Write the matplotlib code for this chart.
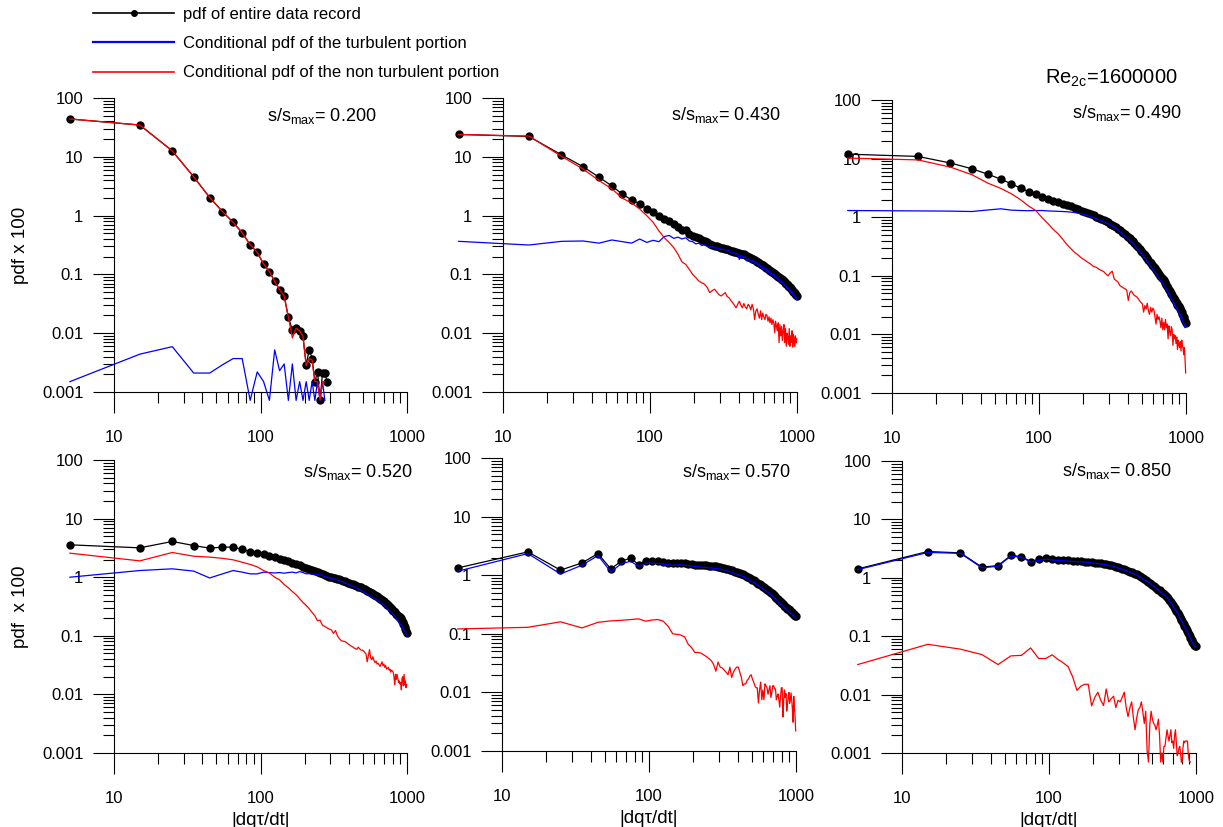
import numpy as np
import matplotlib
matplotlib.use("Agg")
import matplotlib.pyplot as plt
from matplotlib.lines import Line2D
from matplotlib.ticker import LogLocator, NullFormatter, FuncFormatter

plt.rcParams['font.family'] = ['Liberation Sans', 'DejaVu Sans']
plt.rcParams['mathtext.fontset'] = 'custom'
plt.rcParams['mathtext.rm'] = 'Liberation Sans'
plt.rcParams['mathtext.it'] = 'Liberation Sans:italic'
plt.rcParams['mathtext.bf'] = 'Liberation Sans:bold'

# histogram bin centres of |dq tau/dt| (bin width 10)
bins = np.arange(5, 1000, 10)

s_ratio = ['0.200', '0.430', '0.490', '0.520', '0.570', '0.850']
reynolds = '1600000'

# s/smax = 0.200
pdf_all_1 = [44, 34.7, 12.6, 4.55, 2.03, 1.17, 0.77, 0.51, 0.32, 0.237,
             0.15, 0.112, 0.076, 0.055, 0.043, 0.0187, 0.0113, 0.0122, 0.011, 0.0088,
             0.0029, 0.0052, 0.0037, 0.0015, 0.0022, 0.00073, 0.0021, 0.0021, 0.0015]
pdf_turb_1 = [0.0015, 0.0044, 0.0059, 0.0021, 0.0021, 0.0029, 0.0037, 0.0037, 0.00072, 0.0022,
              0.0015, 0.00072, 0.0052, 0.0023, 0.003, 0.00072, 0.003, 0.00072, 0.0015, 0.00072,
              0.0015, 0.00072, 0.0015, 0.00072, 0.0015, 0.00072, 0.0015, 0.00072]
pdf_nonturb_1 = [44, 34.7, 12.6, 4.55, 2.03, 1.17, 0.77, 0.51, 0.32, 0.237,
                 0.15, 0.112, 0.076, 0.055, 0.043, 0.0187, 0.0083, 0.0122, 0.011, 0.0088,
                 0.0028, 0.0037, 0.0035, 0.0015, 0.0015, 0.00073, 0.0015, 0.0015]

# s/smax = 0.430
pdf_all_2 = [24, 22.2, 10.8, 6.8, 4.5, 3.2, 2.3, 1.85, 1.6, 1.3,
             1.17, 0.97, 0.88, 0.80, 0.71, 0.63, 0.58, 0.56, 0.49, 0.45,
             0.43, 0.41, 0.385, 0.37, 0.35, 0.33, 0.32, 0.31, 0.30, 0.29,
             0.285, 0.28, 0.27, 0.268, 0.26, 0.252, 0.248, 0.244, 0.24, 0.235,
             0.228, 0.225, 0.22, 0.22, 0.215, 0.205, 0.2, 0.195, 0.19, 0.185,
             0.18, 0.176, 0.17, 0.165, 0.16, 0.155, 0.15, 0.146, 0.142, 0.138,
             0.134, 0.13, 0.127, 0.123, 0.12, 0.116, 0.113, 0.11, 0.107, 0.105,
             0.102, 0.099, 0.097, 0.094, 0.092, 0.089, 0.087, 0.085, 0.083, 0.081,
             0.079, 0.077, 0.075, 0.072, 0.07, 0.068, 0.066, 0.064, 0.062, 0.06,
             0.058, 0.056, 0.055, 0.053, 0.051, 0.05, 0.048, 0.046, 0.045, 0.043]
pdf_turb_2 = [0.365, 0.316, 0.365, 0.37, 0.34, 0.385, 0.36, 0.34, 0.40, 0.35,
              0.38, 0.36, 0.44, 0.46, 0.41, 0.43, 0.40, 0.42, 0.37, 0.36,
              0.33, 0.34, 0.31, 0.32, 0.30, 0.29, 0.30, 0.28, 0.285, 0.27,
              0.27, 0.265, 0.26, 0.25, 0.255, 0.24, 0.235, 0.23, 0.22, 0.225,
              0.18, 0.21, 0.2, 0.19, 0.2, 0.17, 0.185, 0.18, 0.16, 0.175,
              0.17, 0.15, 0.165, 0.155, 0.14, 0.15, 0.135, 0.14, 0.125, 0.13,
              0.12, 0.125, 0.11, 0.118, 0.105, 0.11, 0.1, 0.104, 0.095, 0.1,
              0.092, 0.088, 0.09, 0.083, 0.085, 0.078, 0.08, 0.074, 0.076, 0.07,
              0.072, 0.066, 0.068, 0.062, 0.064, 0.058, 0.06, 0.055, 0.056, 0.052,
              0.053, 0.048, 0.05, 0.046, 0.047, 0.043, 0.044, 0.04, 0.041, 0.037]
pdf_nonturb_2 = [24, 22.5, 10.2, 6.2, 3.95, 2.85, 1.97, 1.64, 1.3, 1.0,
                 0.77, 0.55, 0.42, 0.35, 0.286, 0.22, 0.163, 0.148, 0.122, 0.1,
                 0.088, 0.077, 0.072, 0.068, 0.06, 0.049, 0.053, 0.056, 0.05, 0.045,
                 0.043, 0.046, 0.049, 0.042, 0.04, 0.036, 0.033, 0.03, 0.027, 0.031,
                 0.035, 0.03, 0.027, 0.032, 0.028, 0.026, 0.031, 0.029, 0.025, 0.031,
                 0.026, 0.017, 0.024, 0.026, 0.021, 0.018, 0.024, 0.017, 0.022, 0.019,
                 0.017, 0.021, 0.02, 0.016, 0.019, 0.015, 0.018, 0.014, 0.017, 0.015,
                 0.0102, 0.016, 0.013, 0.011, 0.015, 0.0069, 0.014, 0.009, 0.013, 0.0075,
                 0.011, 0.014, 0.0069, 0.012, 0.006, 0.01, 0.0085, 0.0065, 0.012, 0.006,
                 0.009, 0.007, 0.011, 0.0058, 0.0095, 0.0075, 0.006, 0.009, 0.0068, 0.008]

# s/smax = 0.490
pdf_all_3 = [11.9, 10.9, 8.4, 6.7, 5.4, 4.46, 3.71, 3.13, 2.74, 2.47,
             2.25, 2.03, 1.9, 1.8, 1.7, 1.62, 1.55, 1.45, 1.37, 1.29,
             1.24, 1.18, 1.13, 1.07, 1.0, 0.96, 0.92, 0.88, 0.85, 0.82,
             0.78, 0.75, 0.72, 0.68, 0.64, 0.6, 0.57, 0.54, 0.51, 0.48,
             0.46, 0.44, 0.41, 0.39, 0.36, 0.34, 0.32, 0.31, 0.29, 0.27,
             0.255, 0.24, 0.225, 0.21, 0.2, 0.185, 0.175, 0.165, 0.155, 0.148,
             0.14, 0.135, 0.126, 0.12, 0.113, 0.106, 0.1, 0.095, 0.09, 0.087,
             0.085, 0.079, 0.075, 0.07, 0.066, 0.062, 0.058, 0.054, 0.051, 0.048,
             0.047, 0.044, 0.042, 0.04, 0.038, 0.036, 0.034, 0.032, 0.031, 0.030,
             0.028, 0.027, 0.025, 0.024, 0.022, 0.021, 0.02, 0.018, 0.017, 0.0155]
pdf_turb_3 = [1.3, 1.28, 1.27, 1.25, 1.33, 1.39, 1.32, 1.3, 1.29, 1.3,
              1.3, 1.28, 1.27, 1.26, 1.25, 1.24, 1.22, 1.2, 1.17, 1.14,
              1.1, 1.06, 1.02, 0.98, 0.94, 0.9, 0.87, 0.84, 0.8, 0.77,
              0.74, 0.71, 0.68, 0.64, 0.6, 0.56, 0.53, 0.5, 0.47, 0.45,
              0.42, 0.4, 0.38, 0.36, 0.33, 0.31, 0.29, 0.28, 0.26, 0.24,
              0.23, 0.215, 0.2, 0.19, 0.175, 0.165, 0.155, 0.145, 0.135, 0.13,
              0.12, 0.118, 0.108, 0.104, 0.096, 0.092, 0.085, 0.082, 0.076, 0.075,
              0.07, 0.068, 0.062, 0.06, 0.055, 0.053, 0.048, 0.046, 0.042, 0.041,
              0.038, 0.037, 0.034, 0.034, 0.03, 0.03, 0.027, 0.027, 0.025, 0.024,
              0.022, 0.022, 0.019, 0.02, 0.017, 0.017, 0.015, 0.015, 0.013, 0.0135]
pdf_nonturb_3 = [10.2, 9.5, 7.15, 5.3, 3.8, 3.1, 2.5, 1.98, 1.55, 1.3,
                 0.98, 0.78, 0.62, 0.52, 0.42, 0.34, 0.29, 0.25, 0.225, 0.2,
                 0.185, 0.17, 0.158, 0.144, 0.14, 0.13, 0.124, 0.118, 0.108, 0.1,
                 0.112, 0.12, 0.088, 0.083, 0.078, 0.068, 0.065, 0.062, 0.06, 0.057,
                 0.038, 0.052, 0.055, 0.05, 0.046, 0.045, 0.043, 0.04, 0.037, 0.035,
                 0.033, 0.024, 0.031, 0.027, 0.034, 0.025, 0.022, 0.029, 0.024, 0.028,
                 0.026, 0.02, 0.015, 0.022, 0.018, 0.02, 0.017, 0.013, 0.019, 0.012,
                 0.016, 0.012, 0.018, 0.013, 0.015, 0.0084, 0.014, 0.011, 0.0095, 0.0135,
                 0.012, 0.0065, 0.01, 0.0085, 0.0095, 0.007, 0.009, 0.0055, 0.008, 0.0065,
                 0.006, 0.0075, 0.0052, 0.008, 0.0065, 0.0058, 0.0045, 0.006, 0.0038, 0.0022]

# s/smax = 0.520
pdf_all_4 = [3.57, 3.17, 4.07, 3.47, 3.13, 3.26, 3.26, 2.97, 2.74, 2.6,
             2.5, 2.34, 2.2, 2.08, 1.98, 1.88, 1.78, 1.7, 1.6, 1.5,
             1.45, 1.38, 1.33, 1.27, 1.22, 1.18, 1.13, 1.09, 1.05, 1.02,
             1.0, 0.98, 0.96, 0.95, 0.92, 0.9, 0.87, 0.85, 0.83, 0.81,
             0.79, 0.78, 0.77, 0.75, 0.73, 0.71, 0.69, 0.68, 0.67, 0.65,
             0.64, 0.62, 0.6, 0.59, 0.58, 0.56, 0.54, 0.53, 0.51, 0.5,
             0.49, 0.48, 0.47, 0.46, 0.44, 0.43, 0.42, 0.41, 0.4, 0.39,
             0.37, 0.36, 0.35, 0.34, 0.33, 0.32, 0.31, 0.3, 0.29, 0.28,
             0.27, 0.26, 0.25, 0.24, 0.235, 0.225, 0.22, 0.215, 0.21, 0.21,
             0.2, 0.19, 0.18, 0.17, 0.16, 0.15, 0.14, 0.13, 0.12, 0.11]
pdf_turb_4 = [1.0, 1.3, 1.39, 1.27, 0.97, 1.14, 1.3, 1.22, 1.14, 1.14,
              1.22, 1.2, 1.18, 1.2, 1.17, 1.2, 1.22, 1.18, 1.25, 1.2,
              1.14, 1.15, 1.12, 1.14, 1.1, 1.1, 1.06, 1.03, 1.0, 0.97,
              0.95, 0.93, 0.91, 0.89, 0.87, 0.85, 0.83, 0.8, 0.78, 0.76,
              0.74, 0.72, 0.71, 0.69, 0.67, 0.65, 0.63, 0.61, 0.6, 0.58,
              0.56, 0.55, 0.53, 0.51, 0.5, 0.49, 0.47, 0.46, 0.45, 0.44,
              0.43, 0.42, 0.41, 0.4, 0.39, 0.38, 0.37, 0.36, 0.35, 0.34,
              0.32, 0.31, 0.3, 0.29, 0.28, 0.27, 0.26, 0.255, 0.25, 0.24,
              0.23, 0.225, 0.22, 0.21, 0.2, 0.19, 0.18, 0.17, 0.165, 0.16,
              0.155, 0.15, 0.145, 0.14, 0.13, 0.125, 0.12, 0.115, 0.11, 0.1]
pdf_nonturb_4 = [2.57, 1.9, 2.64, 2.28, 2.2, 2.1, 1.98, 1.8, 1.65, 1.5,
                 1.3, 1.18, 1.0, 0.9, 0.75, 0.66, 0.57, 0.5, 0.43, 0.37,
                 0.33, 0.29, 0.25, 0.22, 0.18, 0.185, 0.15, 0.145, 0.136, 0.13,
                 0.126, 0.11, 0.123, 0.1, 0.09, 0.083, 0.081, 0.08, 0.077, 0.073,
                 0.07, 0.067, 0.065, 0.062, 0.06, 0.059, 0.064, 0.06, 0.057, 0.057,
                 0.055, 0.052, 0.049, 0.036, 0.046, 0.058, 0.042, 0.039, 0.044, 0.038,
                 0.035, 0.037, 0.033, 0.034, 0.032, 0.03, 0.033, 0.036, 0.031, 0.033,
                 0.029, 0.031, 0.027, 0.028, 0.029, 0.026, 0.027, 0.024, 0.026, 0.025,
                 0.024, 0.02, 0.0145, 0.022, 0.018, 0.022, 0.019, 0.016, 0.017, 0.015,
                 0.016, 0.012, 0.019, 0.02, 0.014, 0.022, 0.0145, 0.017, 0.013, 0.0145]

# s/smax = 0.570
pdf_all_5 = [1.33, 2.5, 1.22, 1.62, 2.34, 1.28, 1.75, 1.95, 1.52, 1.78,
             1.75, 1.72, 1.68, 1.63, 1.6, 1.62, 1.62, 1.6, 1.58, 1.55,
             1.52, 1.5, 1.49, 1.48, 1.47, 1.45, 1.44, 1.43, 1.41, 1.4,
             1.37, 1.35, 1.33, 1.3, 1.27, 1.24, 1.21, 1.18, 1.15, 1.13,
             1.11, 1.08, 1.06, 1.04, 1.02, 0.98, 0.94, 0.92, 0.88, 0.86,
             0.84, 0.82, 0.79, 0.77, 0.75, 0.72, 0.7, 0.68, 0.66, 0.64,
             0.62, 0.6, 0.58, 0.56, 0.55, 0.53, 0.51, 0.5, 0.49, 0.47,
             0.46, 0.44, 0.43, 0.41, 0.4, 0.39, 0.37, 0.36, 0.35, 0.34,
             0.33, 0.32, 0.31, 0.3, 0.29, 0.285, 0.28, 0.27, 0.265, 0.26,
             0.25, 0.245, 0.24, 0.235, 0.23, 0.22, 0.215, 0.21, 0.205, 0.2]
pdf_turb_5 = [1.17, 2.34, 1.05, 1.48, 2.17, 1.14, 1.58, 1.73, 1.42, 1.6,
              1.6, 1.58, 1.55, 1.5, 1.47, 1.5, 1.49, 1.48, 1.46, 1.43,
              1.41, 1.39, 1.38, 1.36, 1.36, 1.33, 1.33, 1.31, 1.3, 1.28,
              1.27, 1.24, 1.23, 1.2, 1.17, 1.15, 1.11, 1.09, 1.06, 1.04,
              1.03, 0.99, 0.98, 0.95, 0.94, 0.9, 0.87, 0.85, 0.81, 0.8,
              0.77, 0.76, 0.73, 0.71, 0.69, 0.66, 0.65, 0.62, 0.61, 0.59,
              0.57, 0.555, 0.535, 0.515, 0.51, 0.49, 0.47, 0.465, 0.45, 0.435,
              0.425, 0.405, 0.4, 0.38, 0.37, 0.36, 0.34, 0.335, 0.32, 0.315,
              0.305, 0.295, 0.29, 0.275, 0.27, 0.26, 0.26, 0.25, 0.245, 0.24,
              0.23, 0.228, 0.22, 0.218, 0.21, 0.205, 0.198, 0.195, 0.19, 0.185]
pdf_nonturb_5 = [0.121, 0.129, 0.16, 0.126, 0.157, 0.166, 0.17, 0.175, 0.18, 0.164,
                 0.172, 0.175, 0.164, 0.134, 0.1, 0.098, 0.095, 0.088, 0.066, 0.058,
                 0.048, 0.048, 0.047, 0.044, 0.041, 0.038, 0.035, 0.03, 0.023, 0.033,
                 0.027, 0.026, 0.024, 0.022, 0.02, 0.027, 0.018, 0.022, 0.025, 0.027,
                 0.027, 0.022, 0.018, 0.013, 0.014, 0.014, 0.016, 0.017, 0.019, 0.02,
                 0.017, 0.015, 0.013, 0.012, 0.012, 0.0066, 0.011, 0.015, 0.0075, 0.011,
                 0.0075, 0.014, 0.013, 0.012, 0.0093, 0.011, 0.013, 0.0082, 0.01, 0.013,
                 0.013, 0.0115, 0.0115, 0.0075, 0.0085, 0.0094, 0.0075, 0.0056, 0.0085, 0.012,
                 0.012, 0.0038, 0.0075, 0.011, 0.0082, 0.0095, 0.0048, 0.0065, 0.0082, 0.01,
                 0.0065, 0.0075, 0.0098, 0.0074, 0.0052, 0.0031, 0.0086, 0.0055, 0.004, 0.0022]

# s/smax = 0.850
pdf_all_6 = [1.42, 2.82, 2.67, 1.52, 1.62, 2.41, 2.31, 1.9, 2.06, 2.17,
             2.08, 2.04, 2.0, 1.98, 1.96, 1.94, 1.92, 1.9, 1.88, 1.85,
             1.82, 1.8, 1.77, 1.75, 1.72, 1.68, 1.64, 1.6, 1.55, 1.51,
             1.47, 1.43, 1.39, 1.35, 1.32, 1.28, 1.25, 1.21, 1.18, 1.14,
             1.1, 1.06, 1.02, 0.98, 0.95, 0.92, 0.89, 0.86, 0.83, 0.79,
             0.76, 0.73, 0.7, 0.67, 0.65, 0.63, 0.61, 0.58, 0.56, 0.54,
             0.53, 0.51, 0.49, 0.47, 0.45, 0.42, 0.4, 0.38, 0.36, 0.34,
             0.32, 0.305, 0.29, 0.275, 0.26, 0.245, 0.23, 0.215, 0.2, 0.19,
             0.18, 0.17, 0.16, 0.152, 0.145, 0.137, 0.13, 0.122, 0.115, 0.108,
             0.1, 0.095, 0.09, 0.085, 0.08, 0.076, 0.073, 0.07, 0.069, 0.068]
pdf_turb_6 = [1.38, 2.72, 2.62, 1.48, 1.58, 2.35, 2.25, 1.86, 1.98, 2.08,
              2.02, 1.98, 1.95, 1.93, 1.9, 1.9, 1.87, 1.85, 1.84, 1.8,
              1.78, 1.76, 1.72, 1.71, 1.68, 1.63, 1.6, 1.56, 1.51, 1.47,
              1.43, 1.4, 1.35, 1.32, 1.28, 1.25, 1.21, 1.18, 1.15, 1.11,
              1.07, 1.03, 1.0, 0.95, 0.93, 0.89, 0.87, 0.83, 0.81, 0.77,
              0.74, 0.71, 0.68, 0.66, 0.63, 0.62, 0.59, 0.57, 0.545, 0.53,
              0.515, 0.5, 0.475, 0.46, 0.44, 0.41, 0.39, 0.37, 0.35, 0.33,
              0.31, 0.3, 0.28, 0.27, 0.25, 0.24, 0.225, 0.21, 0.195, 0.185,
              0.175, 0.165, 0.155, 0.148, 0.14, 0.133, 0.126, 0.118, 0.112, 0.105,
              0.097, 0.093, 0.087, 0.083, 0.078, 0.074, 0.071, 0.068, 0.067, 0.066]
pdf_nonturb_6 = [0.0327, 0.0726, 0.06, 0.0484, 0.0327, 0.046, 0.047, 0.063, 0.0415, 0.0415,
                 0.048, 0.04, 0.035, 0.03, 0.02, 0.0118, 0.014, 0.015, 0.015, 0.0064,
                 0.009, 0.011, 0.008, 0.0065, 0.0125, 0.0075, 0.0085, 0.0094, 0.006, 0.008,
                 0.0075, 0.009, 0.011, 0.006, 0.0042, 0.006, 0.0075, 0.004, 0.0025, 0.004,
                 0.0055, 0.006, 0.0075, 0.005, 0.0032, 0.0052, 0.0011, 0.0007, 0.003, 0.0052,
                 0.0038, 0.0032, 0.003, 0.0025, 0.003, 0.0038, 0.002, 0.0007, 0.001, 0.0007,
                 0.0013, 0.0013, 0.0018, 0.0025, 0.002, 0.0016, 0.002, 0.0025, 0.0015, 0.0016,
                 0.0012, 0.002, 0.0025, 0.0015, 0.0009, 0.001, 0.0012, 0.0013, 0.001, 0.0007,
                 0.0007, 0.0012, 0.0016, 0.0015, 0.0016, 0.0016, 0.0016, 0.0016, 0.001, 0.0008,
                 0.0007, 0.0007]

pdf_all = [pdf_all_1, pdf_all_2, pdf_all_3, pdf_all_4, pdf_all_5, pdf_all_6]
pdf_turb = [pdf_turb_1, pdf_turb_2, pdf_turb_3, pdf_turb_4, pdf_turb_5, pdf_turb_6]
pdf_nonturb = [pdf_nonturb_1, pdf_nonturb_2, pdf_nonturb_3, pdf_nonturb_4, pdf_nonturb_5, pdf_nonturb_6]

legend_labels = ['pdf of entire data record',
                 'Conditional pdf of the turbulent portion',
                 'Conditional pdf of the non turbulent portion']

W, H = 1223, 827
fig = plt.figure(figsize=(W / 100, H / 100), dpi=100)

# panel frames in pixels: x=10, x=1000, y=100, y=0.001
frames = [(114, 407, 98, 392), (503, 797, 98, 392), (892, 1186, 100, 393),
          (114, 407, 460, 753), (502, 796, 458, 751), (902, 1196, 461, 753)]
# right edge / baseline of the s/smax note, in axes fraction
notes = [(0.894, 0.922), (0.942, 0.925), (0.986, 0.939),
         (1.017, 0.942), (0.983, 0.935), (0.918, 0.949)]

fmt = FuncFormatter(lambda v, pos: '%g' % v)

for k, (l, r, t, b) in enumerate(frames):
    ax = fig.add_axes([l / W, 1 - b / H, (r - l) / W, (b - t) / H])

    n = len(pdf_all[k])
    ax.plot(bins[:n], pdf_all[k], color='k', lw=0.9, marker='o', ms=5,
            clip_on=False, zorder=3)
    n = len(pdf_turb[k])
    ax.plot(bins[:n], pdf_turb[k], color='#0000ff', lw=0.9, clip_on=False, zorder=4)
    n = len(pdf_nonturb[k])
    ax.plot(bins[:n], pdf_nonturb[k], color='#ff0000', lw=0.9, clip_on=False, zorder=5)

    ax.set_xscale('log')
    ax.set_yscale('log')
    ax.set_xlim(10, 1000)
    ax.set_ylim(0.001, 100)

    for axis in (ax.xaxis, ax.yaxis):
        axis.set_major_locator(LogLocator(base=10, numticks=12))
        axis.set_minor_locator(LogLocator(base=10, subs=np.arange(2, 10), numticks=12))
        axis.set_major_formatter(fmt)
        axis.set_minor_formatter(NullFormatter())

    ax.spines['top'].set_visible(False)
    ax.spines['right'].set_visible(False)
    for side in ('left', 'bottom'):
        ax.spines[side].set_linewidth(0.8)

    ax.tick_params(which='major', direction='out', length=15, width=0.8,
                   labelsize=12, colors='k')
    ax.tick_params(which='minor', direction='out', length=8, width=0.8, colors='k')
    ax.tick_params(axis='x', which='major', pad=12.5)
    ax.tick_params(axis='y', which='major', pad=7)

    xr, yb = notes[k]
    ax.text(xr, yb, r's/s$_{\mathrm{max}}$= ' + s_ratio[k], transform=ax.transAxes,
            ha='right', va='baseline', fontsize=13)

    if k == 0:
        ax.set_ylabel('pdf x 100', fontsize=13.5, labelpad=9)
    if k == 3:
        ax.set_ylabel('pdf  x 100', fontsize=13.5, labelpad=9)
    if k >= 3:
        ax.set_xlabel('|dq\u03c4/dt|', fontsize=13.5, labelpad=4)

fig.text(1178 / W, 1 - 84 / H, r'Re$_{\mathrm{2c}}$=' + reynolds,
         ha='right', va='baseline', fontsize=14.5)

handles = [Line2D([], [], color='k', lw=1.2, marker='o', ms=4),
           Line2D([], [], color='#0000ff', lw=1.6),
           Line2D([], [], color='#ff0000', lw=1.2)]
fig.legend(handles, legend_labels, loc='upper left', bbox_to_anchor=(93 / W, 1 - 7 / H),
           frameon=False, fontsize=12, handlelength=4.86, handletextpad=0.55,
           labelspacing=0.85, borderpad=0, borderaxespad=0, numpoints=1)

fig.savefig('out.png', dpi=100)
